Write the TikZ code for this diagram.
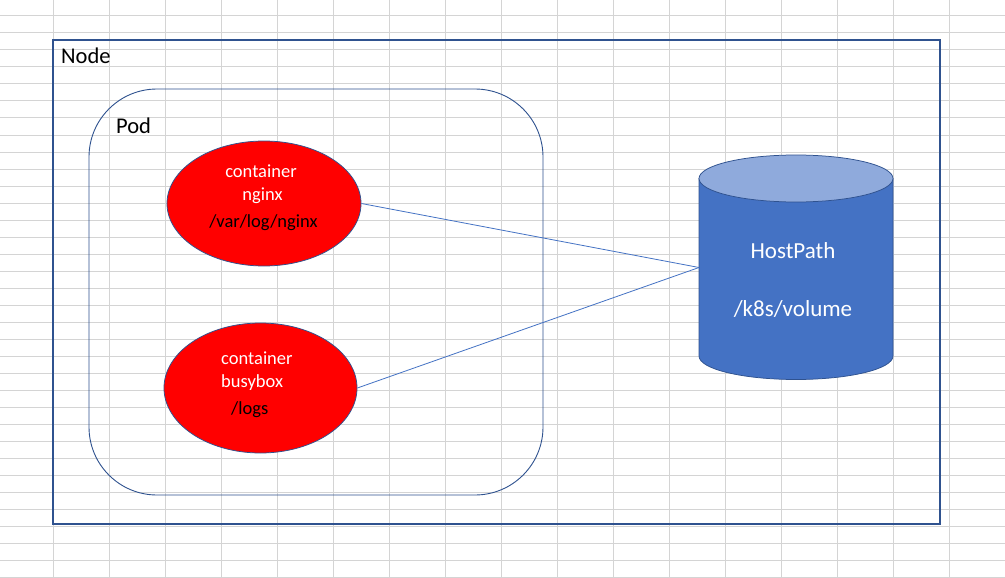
\documentclass[tikz,border=0pt]{standalone}
\usepackage{fontspec}
\setmainfont{Carlito}
\usetikzlibrary{shapes.geometric}
\definecolor{gridgray}{HTML}{D4D4D4}
\definecolor{frameblue}{HTML}{2F528F}
\definecolor{volblue}{HTML}{4472C4}
\definecolor{voltop}{HTML}{8FAADC}
\tikzset{
  ctr/.style={ellipse, draw=frameblue, line width=0.75pt, fill=red, inner sep=0pt,
    minimum width=194pt, minimum height=125pt},
  wtext/.style={text=white, font=\fontsize{18.5}{22}\selectfont, inner sep=0pt},
  btext/.style={text=black, font=\fontsize{18.5}{22}\selectfont, inner sep=0pt},
  big/.style={text=black, font=\fontsize{22.5}{27}\selectfont, inner sep=0pt},
  vol/.style={text=white, font=\fontsize{23}{27}\selectfont, inner sep=0pt},
  link/.style={draw=volblue, line width=0.8pt},
}
\begin{document}
\begin{tikzpicture}[x=1pt, y=-1pt]
\useasboundingbox (0,0) rectangle (1005,578);
\fill[white] (0,0) rectangle (1005,578);
\foreach \gx in {53,109,...,949} \draw[gridgray, line width=1pt] (\gx,0) -- (\gx,578);
\foreach \gy in {16,33,...,577} \draw[gridgray, line width=1pt] (0,\gy) -- (1005,\gy);
\node[draw=frameblue, line width=1.3pt, inner sep=0pt, minimum width=887pt, minimum height=484pt] (node) at (496.5, 282) {};
\node[draw=frameblue, line width=0.9pt, inner sep=0pt, rounded corners=68pt, minimum width=454pt, minimum height=406pt] (pod) at (316, 292) {};
\node[big, anchor=base west] (nodelbl) at (61, 64) {Node};
\node[big, anchor=base west] (podlbl) at (116, 133) {Pod};
\node[ctr] (nginx) at (264, 203.5) {};
\node[ctr, minimum width=193pt, minimum height=130pt] (busybox) at (260.5, 388) {};
\filldraw[fill=volblue, draw=frameblue, line width=0.75pt] (699,178.5) -- (699,356)
  arc[start angle=180, end angle=0, x radius=97, y radius=23.5] -- (893,178.5) -- cycle;
\filldraw[fill=voltop, draw=frameblue, line width=0.75pt] (796,178.5) ellipse [x radius=97, y radius=23.5];
\coordinate (hp) at (699, 267.5);
\draw[link] (nginx.east) -- (hp);
\draw[link] (busybox.east) -- (hp);
\node[wtext, anchor=base] (n1) at (261, 177) {container};
\node[wtext, anchor=base] (n2) at (262.5, 200) {nginx};
\node[btext, anchor=base] (n3) at (263.5, 227) {/var/log/nginx};
\node[wtext, anchor=base west] (b1) at (221, 364) {container};
\node[wtext, anchor=base west] (b2) at (221, 387) {busybox};
\node[btext, anchor=base west] (b3) at (231, 414) {/logs};
\node[vol, anchor=base] (h1) at (793, 258) {HostPath};
\node[vol, anchor=base] (h2) at (793, 316) {/k8s/volume};
\end{tikzpicture}
\end{document}
